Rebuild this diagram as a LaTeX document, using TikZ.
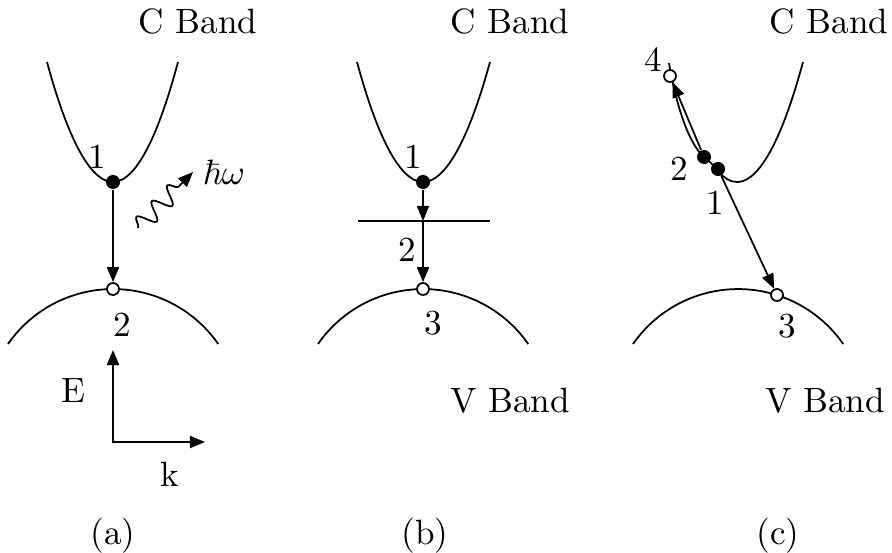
\documentclass[tikz,border=0pt]{standalone}
\usepackage{amsmath,amssymb}
\usepackage{tikz}
\usetikzlibrary{arrows.meta,decorations.pathmorphing}

\tikzset{
  dot/.style={circle,fill,inner sep=0pt,minimum size=1.4mm},
  hole/.style={circle,draw,fill=white,inner sep=0pt,minimum size=1.2mm},
  tip/.style={-{Triangle[length=1.5mm,width=1.2mm]}}
}

\begin{document}
\begin{tikzpicture}[x=0.01cm,y=-0.01cm,line width=0.5pt]
\useasboundingbox (0,0) rectangle (892,552);

% (a) direct transition
\draw (47,62) parabola bend (113,182) (178,62);
\draw (8,344) arc[start angle=-145.2,end angle=-34.8,radius=128];
\node[dot] (a1) at (113,182){};
\node[hole] (a2) at (113,289){};
\draw[tip] (a1)--(a2);
\node (na1) at (97,157){1};
\node (na2) at (122,325){2};
\node (cba) at (198,21){C Band};

% photon
\coordinate (ph0) at (138,228);
\coordinate (ph1) at (193,172);
\draw[tip,decorate,decoration={snake,amplitude=.9mm,segment length=2.2mm,post length=1.5mm}] (ph0)--(ph1);
\node (hw) at (224,172){$\hbar\omega$};

% E-k axes
\coordinate (Etip) at (113,350);
\coordinate (ktip) at (205,442);
\draw[{Triangle[length=1.5mm,width=1.2mm]}-{Triangle[length=1.5mm,width=1.2mm]}] (Etip) |- (ktip);
\node (E) at (73,391){E};
\node (k) at (170,474){k};

% (b) via a level in the gap
\draw (357,62) parabola bend (423,182) (490,62);
\draw (318,344) arc[start angle=-145.2,end angle=-34.8,radius=128];
\coordinate (bL) at (358,221);
\coordinate (bR) at (490,221);
\draw (bL)--(bR);
\coordinate (b2) at (423,221);
\node[dot] (b1) at (423,182){};
\node[hole] (b3) at (423,289){};
\draw[tip] (b1)--(b2);
\draw[tip] (b2)--(b3);
\node (nb1) at (413,157){1};
\node (nb2) at (407,250){2};
\node (nb3) at (433,323){3};
\node (cbb) at (510,21){C Band};
\node (vbb) at (510,401){V Band};

% (c) Auger process
\draw (669,63) .. controls (677,110) and (690,145) .. (704,157)
  .. controls (716,165) and (722,182) .. (737,182) parabola (803,62);
\draw (633,344) arc[start angle=-145.2,end angle=-34.8,radius=128];
\node[dot] (c1) at (718,169){};
\node[dot] (c2) at (704,157){};
\node[hole] (c4) at (670,76){};
\node[hole] (c3) at (777,295){};
\draw[tip] (c2)--(c4);
\draw[tip] (c1)--(c3);
\node (nc4) at (653,60){4};
\node (nc2) at (679,169){2};
\node (nc1) at (715,203){1};
\node (nc3) at (787,326){3};
\node (cbc) at (829,21){C Band};
\node (vbc) at (825,401){V Band};

% captions
\node (la) at (113,536){(a)};
\node (lb) at (425,536){(b)};
\node (lc) at (778,536){(c)};

\end{tikzpicture}
\end{document}
